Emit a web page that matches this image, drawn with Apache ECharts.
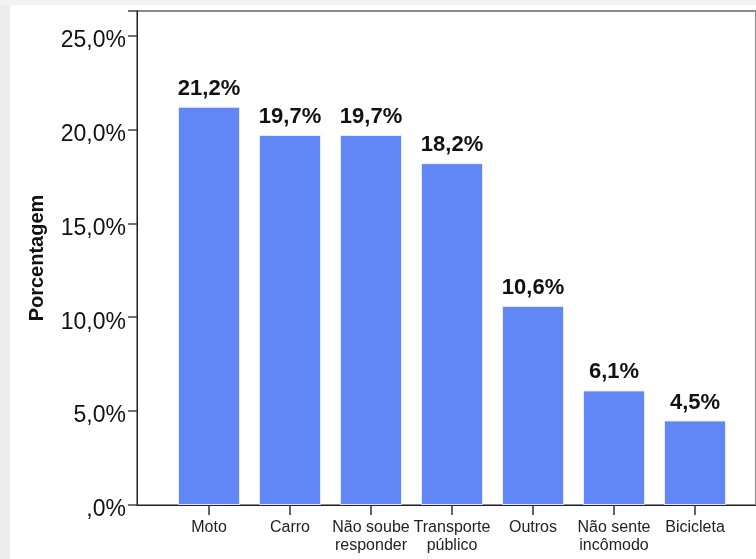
<!DOCTYPE html>
<html>
<head>
<meta charset="utf-8">
<script src="https://cdn.jsdelivr.net/npm/echarts@6/dist/echarts.min.js"></script>
<style>
html,body{margin:0;padding:0;background:#eeeeee;}
#chart{width:756px;height:559px;}
</style>
</head>
<body>
<div id="chart"></div>
<script>
const categories = ['Moto', 'Carro', 'Não soube\nresponder', 'Transporte\npúblico', 'Outros', 'Não sente\nincômodo', 'Bicicleta'];
const values = [21.2, 19.7, 19.7, 18.2, 10.6, 6.1, 4.5];
const yTicks = [0, 5, 10, 15, 20, 25];
const yTickLabels = [',0%', '5,0%', '10,0%', '15,0%', '20,0%', '25,0%'];
const yMax = 26.3;

function fmtPct(v) { return v.toFixed(1).replace('.', ',') + '%'; }

const chart = echarts.init(document.getElementById('chart'), null, {renderer: 'canvas'});
chart.setOption({
  backgroundColor: '#ffffff',
  animation: false,
  graphic: [
    {type: 'rect', z: -10, silent: true, shape: {x: 0, y: 0, width: 10, height: 559}, style: {fill: '#ececec'}},
    {type: 'rect', z: -10, silent: true, shape: {x: 0, y: 0, width: 756, height: 5}, style: {fill: '#f3f3f3'}}
  ],
  grid: [
    {left: 137, top: 11, right: -30, bottom: 54, show: true, borderColor: '#8a8a8a', borderWidth: 2, backgroundColor: 'transparent'},
    {left: 168.5, width: 567, top: 11, bottom: 54}
  ],
  xAxis: [
    {gridIndex: 0, type: 'value', min: 0, max: 1, axisLabel: {show: false}, axisTick: {show: false}, splitLine: {show: false},
     axisLine: {show: true, lineStyle: {color: '#222', width: 1}}},
    {gridIndex: 1, type: 'category', data: categories, boundaryGap: true,
     axisLine: {show: false},
     axisTick: {show: true, alignWithLabel: true, length: 10, lineStyle: {color: '#333', width: 1.5}},
     axisLabel: {interval: 0, margin: 14, color: '#222', fontFamily: 'Liberation Sans, Arial, sans-serif', fontSize: 16, lineHeight: 18}}
  ],
  yAxis: [
    {gridIndex: 0, type: 'value', min: 0, max: yMax, interval: 5,
     name: 'Porcentagem', nameLocation: 'middle', nameGap: 90,
     nameTextStyle: {color: '#111', fontFamily: 'Liberation Sans, Arial, sans-serif', fontSize: 20, fontWeight: 'bold'},
     axisLine: {show: true, lineStyle: {color: '#222', width: 1}},
     axisTick: {show: true, length: 9, lineStyle: {color: '#444', width: 1.5}},
     splitLine: {show: false},
     axisLabel: {margin: 11, color: '#111', fontFamily: 'Liberation Sans, Arial, sans-serif', fontSize: 23,
       verticalAlign: 'top', lineHeight: 10,
       formatter: function (v) { const i = yTicks.indexOf(v); return i >= 0 ? yTickLabels[i] : ''; }}},
    {gridIndex: 1, type: 'value', min: 0, max: yMax, show: false}
  ],
  series: [{
    type: 'bar', xAxisIndex: 1, yAxisIndex: 1, data: values, barWidth: 62,
    itemStyle: {color: '#6186f6', borderColor: 'rgba(235,240,255,0.9)', borderWidth: 1},
    label: {show: true, position: 'top', distance: 7, color: '#111', fontFamily: 'Liberation Sans, Arial, sans-serif', fontWeight: 'bold', fontSize: 22,
      formatter: function (p) { return fmtPct(p.value); }}
  }]
});
</script>
</body>
</html>
